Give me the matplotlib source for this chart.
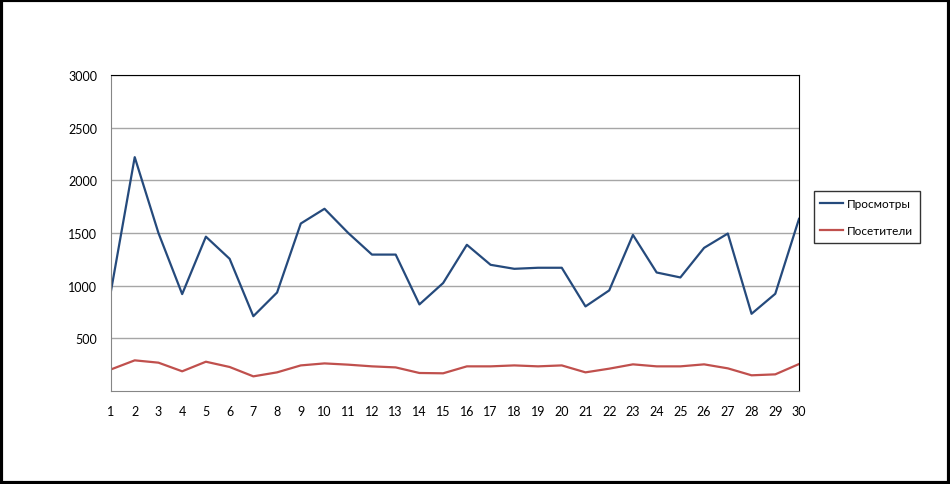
import matplotlib
matplotlib.use("Agg")
import matplotlib.pyplot as plt
from matplotlib.patches import Rectangle

days = list(range(1, 31))
views = [950, 2220, 1500, 920, 1465, 1255, 710, 935, 1590, 1730,
         1500, 1295, 1295, 822, 1025, 1388, 1198, 1160, 1170, 1170,
         803, 955, 1482, 1125, 1078, 1359, 1495, 733, 923, 1634]
visitors = [205, 291, 269, 187, 278, 228, 139, 177, 243, 262,
            250, 234, 224, 171, 168, 234, 234, 243, 234, 243,
            177, 212, 253, 234, 234, 253, 215, 149, 158, 256]
yticks = [500, 1000, 1500, 2000, 2500, 3000]

plt.rcParams['font.family'] = ['Lato', 'DejaVu Sans']

fig = plt.figure(figsize=(9.5, 4.85), dpi=100)
fig.patches.append(Rectangle((0.0015, 0.003), 0.997, 0.994, transform=fig.transFigure,
                             fill=False, edgecolor='black', linewidth=3))

ax = fig.add_axes([111 / 950, 1 - 392 / 485, (799 - 111) / 950, (392 - 76) / 485])
ax.plot(days, views, color='#254A7C', lw=1.6, label='Просмотры')
ax.plot(days, visitors, color='#C0504D', lw=1.6, label='Посетители')

ax.set_xlim(1, 30)
ax.set_ylim(0, 3000)
ax.set_xticks(days)
ax.set_yticks(yticks)
ax.tick_params(axis='both', length=0, labelsize=9, colors='black')
ax.tick_params(axis='x', pad=10)
ax.tick_params(axis='y', pad=10)
ax.grid(axis='y', color='#A6A6A6', lw=1)
ax.set_axisbelow(True)
ax.spines['left'].set_color('#868686')
ax.spines['bottom'].set_color('#868686')
ax.spines['top'].set_color('black')
ax.spines['right'].set_color('black')

leg = ax.legend(loc='center left', bbox_to_anchor=(814 / 950, 1 - 218 / 485),
                bbox_transform=fig.transFigure, borderaxespad=0, frameon=True,
                fancybox=False, fontsize=8.5, handlelength=1.9, handletextpad=0.35,
                labelspacing=1.4, borderpad=0.55)
leg.get_frame().set_edgecolor('black')
leg.get_frame().set_linewidth(1)

fig.savefig('out.png', dpi=100)
